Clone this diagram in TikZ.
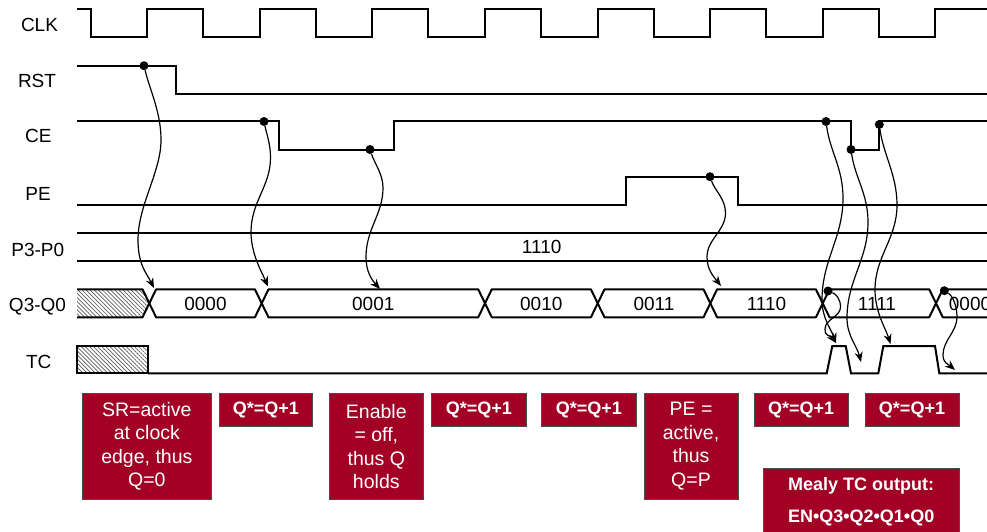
\documentclass[tikz,border=0pt]{standalone}
\usepackage{fontspec}
\setmainfont{Liberation Sans}
\usetikzlibrary{arrows.meta,patterns.meta}
\definecolor{boxred}{HTML}{A20025}
\begin{document}
\begin{tikzpicture}[x=1pt,y=-1pt,
  sig/.style={line width=2pt, line join=miter},
  bus/.style={line width=2pt, line join=round},
  curvy/.style={line width=1.2pt, -{Stealth[length=10pt,width=8pt]}},
  lbl/.style={font=\fontsize{19}{23}\selectfont, inner sep=0pt, text depth=0pt},
  val/.style={font=\fontsize{19}{23}\selectfont, inner sep=0pt, text depth=0pt},
  note/.style={fill=boxred, draw=black!70, line width=0.8pt, text=white, font=\fontsize{19.5}{23.5}\selectfont, align=center, inner sep=0pt},
  bnote/.style={note, font=\bfseries\fontsize{18}{23}\selectfont},
  bigdot/.style={circle, fill=black, inner sep=0pt, minimum size=9pt},
  hatch/.style={pattern={Lines[angle=-45,distance=2.9pt,line width=0.7pt]}, pattern color=black!65}
]
\useasboundingbox (0,0) rectangle (987,532);
\clip (0,0) rectangle (987,532);

% signal names
\node[lbl] (lclk) at (39.5,25) {CLK};
\node[lbl] (lrst) at (37,80.7) {RST};
\node[lbl] (lce) at (38.3,135.5) {CE};
\node[lbl] (lpe) at (38,193.7) {PE};
\node[lbl] (lp) at (37.8,249.7) {P3-P0};
\node[lbl] (lq) at (37.5,304.5) {Q3-Q0};
\node[lbl] (ltc) at (38.8,361.7) {TC};

% CLK
\draw[sig] (77,9.3) -- (90.7,9.3) -- (90.7,37.3) -- (147.3,37.3) -- (147.3,9.3) -- (203.3,9.3) -- (203.3,37.3) -- (259.9,37.3) -- (259.9,9.3) -- (315.8,9.3) -- (315.8,37.3) -- (372.4,37.3) -- (372.4,9.3) -- (428.4,9.3) -- (428.4,37.3) -- (485,37.3) -- (485,9.3) -- (541,9.3) -- (541,37.3) -- (597.6,37.3) -- (597.6,9.3) -- (653.5,9.3) -- (653.5,37.3) -- (710.1,37.3) -- (710.1,9.3) -- (766.1,9.3) -- (766.1,37.3) -- (822.7,37.3) -- (822.7,9.3) -- (878.7,9.3) -- (878.7,37.3) -- (935.3,37.3) -- (935.3,9.3) -- (992,9.3);
% RST
\draw[sig] (77,65.7) -- (175.7,65.7) -- (175.7,94) -- (992,94);
% CE
\draw[sig] (77,121.5) -- (279.3,121.5) -- (279.3,149.5) -- (394.3,149.5) -- (394.3,121.5) -- (850.7,121.5) -- (850.7,149.5) -- (879.3,149.5) -- (879.3,121.5) -- (992,121.5);
% PE
\draw[sig] (77,205) -- (626,205) -- (626,176.7) -- (738,176.7) -- (738,205) -- (992,205);
% P3-P0
\draw[sig] (77,232.7) -- (992,232.7);
\draw[sig] (77,261) -- (992,261);
\node[val] (pval) at (541.7,247.3) {1110};

% Q3-Q0 bus
\fill[hatch] (77,289.3) -- (142.5,289.3) -- (149.3,303.3) -- (142.5,317.3) -- (77,317.3) -- cycle;
\draw[bus] (77,289.3) -- (142.5,289.3) -- (149.3,303.3) -- (142.5,317.3) -- (77,317.3);
\foreach \a/\b in {149.3/261.7, 261.7/485, 485/597.7, 597.7/710.3, 710.3/822.7, 822.7/936}
  \draw[bus] (\a,303.3) -- ({\a+6.8},289.3) -- ({\b-6.8},289.3) -- (\b,303.3) -- ({\b-6.8},317.3) -- ({\a+6.8},317.3) -- cycle;
\draw[bus] (992,289.3) -- (942.8,289.3) -- (936,303.3) -- (942.8,317.3) -- (992,317.3);
\node[val] (q1) at (205.5,304.3) {0000};
\node[val] (q2) at (373.3,304.3) {0001};
\node[val] (q3) at (541.3,304.3) {0010};
\node[val] (q4) at (654,304.3) {0011};
\node[val] (q5) at (766.5,304.3) {1110};
\node[val] (q6) at (877,304.3) {1111};
\node[val] (q7) at (970,304.3) {0000};

% TC
\fill[hatch] (77,346) rectangle (148,373.3);
\draw[sig] (77,346) rectangle (148,373.3);
\draw[sig] (148,373.3) -- (826.7,373.3) -- (832.3,346) -- (845.7,346) -- (851,373.3) -- (878.3,373.3) -- (883.3,346) -- (935,346) -- (939.3,373.3) -- (992,373.3);

% dots
\node[bigdot] (dRST) at (144,65.7) {};
\node[bigdot] (dCE1) at (264,121.5) {};
\node[bigdot] (dCE2) at (370,149.5) {};
\node[bigdot] (dPE) at (710,176.7) {};
\node[bigdot] (dCE3) at (826,121.5) {};
\node[bigdot] (dCE4) at (851,149.5) {};
\node[bigdot] (dCE5) at (879.3,124.5) {};
\node[bigdot] (dQA) at (828,291) {};
\node[bigdot] (dQB) at (944.3,290.7) {};

% targets
\coordinate (tQ1) at (154,288);
\coordinate (tQ2) at (268,286.5);
\coordinate (tQ3) at (380,289);
\coordinate (tQ4) at (721,286);
\coordinate (tTC1) at (836,343);
\coordinate (tTC2) at (861,362);
\coordinate (tTC3) at (890.5,344);
\coordinate (tTC4) at (955,370);

% cause-effect arrows
\draw[curvy] (dRST) .. controls +(6,25) and +(0,-28) .. (161,140) .. controls +(0,32) and +(0,-35) .. (138,240) .. controls +(0,25) and +(-7,-14) .. (tQ1);
\draw[curvy] (dCE1) .. controls +(3,14) and +(0,-14) .. (270.5,158) .. controls +(0,28) and +(0,-30) .. (251,232) .. controls +(0,22) and +(-6,-14) .. (tQ2);
\draw[curvy] (dCE2) .. controls +(5,15) and +(0,-14) .. (383,188) .. controls +(0,26) and +(0,-28) .. (366,257) .. controls +(0,15) and +(-8,-9) .. (tQ3);
\draw[curvy] (dPE) .. controls +(5,14) and +(0,-14) .. (725.5,213) .. controls +(0,18) and +(0,-18) .. (707,257) .. controls +(0,13) and +(-7,-9) .. (tQ4);
\draw[curvy] (dCE3) .. controls +(4,30) and +(0,-30) .. (843,198) .. controls +(0,40) and +(0,-40) .. (822,300) .. controls +(0,18) and +(-5,-14) .. (tTC1);
\draw[curvy] (dQA) .. controls +(8,3) and +(0,-8) .. (840.5,307) .. controls +(0,10) and +(0,-10) .. (825,329) .. controls +(0,8) and +(-6,-8) .. (tTC1);
\draw[curvy] (dCE4) .. controls +(4,28) and +(0,-28) .. (868,222) .. controls +(0,38) and +(0,-38) .. (847,318) .. controls +(0,18) and +(-4,-16) .. (tTC2);
\draw[curvy] (dCE5) .. controls +(4,30) and +(0,-30) .. (897,205) .. controls +(0,34) and +(0,-34) .. (875,290) .. controls +(0,22) and +(-5,-16) .. (tTC3);
\draw[curvy] (dQB) .. controls +(8,5) and +(0,-12) .. (957,317) .. controls +(0,15) and +(0,-15) .. (943,355) .. controls +(0,8) and +(-7,-6) .. (tTC4);

% notes
\node[note, minimum width=128.3pt, minimum height=106pt] (n1) at (146.85,446.3) {SR=active\\at clock\\edge, thus\\Q=0};
\node[bnote, minimum width=93.7pt, minimum height=33.4pt] (n2) at (265.85,410) {Q*=Q+1};
\node[note, minimum width=94pt, minimum height=106pt] (n3) at (376.3,446.3) {Enable\\= off,\\thus Q\\holds};
\node[bnote, minimum width=94.3pt, minimum height=33.4pt] (n4) at (478.85,410) {Q*=Q+1};
\node[bnote, minimum width=94.3pt, minimum height=33.4pt] (n5) at (588.85,410) {Q*=Q+1};
\node[note, minimum width=94pt, minimum height=106pt] (n6) at (691,446.3) {PE =\\active,\\thus\\Q=P};
\node[bnote, minimum width=94.3pt, minimum height=33.4pt] (n7) at (801.15,410) {Q*=Q+1};
\node[bnote, minimum width=94pt, minimum height=33.4pt] (n8) at (912,410) {Q*=Q+1};
\node[bnote, font=\bfseries\fontsize{18}{32}\selectfont, minimum width=195.7pt, minimum height=67.4pt] (n9) at (861.15,502) {Mealy TC output:\\EN•Q3•Q2•Q1•Q0};
\end{tikzpicture}
\end{document}
